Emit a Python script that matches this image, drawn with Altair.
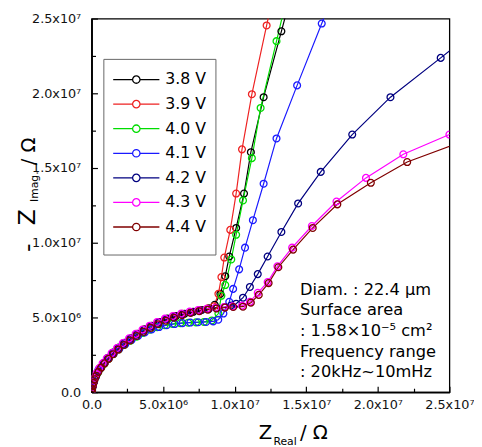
import json
import altair as alt
import pandas as pd

# ---------------- data (values in units of 1e6 ohm) ----------------
series = ["3.8 V", "3.9 V", "4.0 V", "4.1 V", "4.2 V", "4.3 V", "4.4 V"]
colors = ["#000000", "#ee2222", "#00dd00", "#1a1aff", "#000080", "#ff00ff", "#800000"]

x_38 = [0.03, 0.08, 0.15, 0.25, 0.4, 0.6, 0.85, 1.15, 1.5, 1.9, 2.3, 2.75, 3.2, 3.7, 4.2, 4.75, 5.3, 5.9, 6.5, 7.1, 7.7, 8.2, 8.6,
        9.0, 9.34, 9.62, 10.1, 10.65, 11.13, 12.02, 13.26, 13.95]
y_38 = [0.12, 0.4, 0.7, 1.0, 1.3, 1.62, 1.95, 2.3, 2.65, 2.98, 3.3, 3.6, 3.9, 4.2, 4.45, 4.7, 4.92, 5.1, 5.25, 5.38, 5.5, 5.62, 5.85,
        6.58, 7.76, 9.08, 10.99, 13.29, 16.06, 19.74, 24.15, 26.6]

x_39 = [0.02, 0.07, 0.14, 0.23, 0.37, 0.56, 0.8, 1.1, 1.45, 1.82, 2.22, 2.66, 3.12, 3.6, 4.1, 4.62, 5.18, 5.75, 6.35, 6.95, 7.55, 8.1, 8.55,
        8.86, 9.07, 9.27, 9.69, 10.1, 10.51, 11.2, 12.23, 12.69]
y_39 = [0.1, 0.38, 0.68, 0.98, 1.28, 1.6, 1.92, 2.27, 2.62, 2.95, 3.27, 3.58, 3.88, 4.17, 4.43, 4.68, 4.9, 5.08, 5.24, 5.37, 5.5, 5.6, 5.75,
        6.58, 7.7, 9.01, 10.86, 13.29, 16.25, 19.94, 24.54, 26.6]

x_40 = [0.03, 0.08, 0.16, 0.26, 0.42, 0.62, 0.88, 1.18, 1.52, 1.9, 2.3, 2.72, 3.15, 3.6, 4.08, 4.58, 5.1, 5.65, 6.2, 6.75, 7.3, 7.85, 8.4, 8.86,
        9.07, 9.34, 9.76, 10.1, 10.58, 11.2, 11.81, 12.92, 13.69]
y_40 = [0.1, 0.38, 0.68, 0.97, 1.27, 1.58, 1.9, 2.22, 2.55, 2.87, 3.17, 3.45, 3.72, 3.97, 4.18, 4.35, 4.48, 4.57, 4.62, 4.65, 4.67, 4.7, 4.8, 5.26,
        6.45, 7.17, 8.88, 10.53, 12.83, 15.66, 19.02, 23.49, 26.6]

x_41 = [0.04, 0.1, 0.18, 0.3, 0.48, 0.66, 0.92, 1.22, 1.56, 1.95, 2.36, 2.8, 3.25, 3.72, 4.2, 4.72, 5.25, 5.8, 6.35, 6.9, 7.45, 8.0, 8.5, 8.85,
        9.21, 9.62, 9.89, 10.31, 10.72, 11.27, 12.02, 12.92, 14.36, 16.08, 16.88]
y_41 = [0.13, 0.42, 0.72, 1.02, 1.5, 1.64, 1.96, 2.28, 2.6, 2.92, 3.22, 3.5, 3.76, 4.0, 4.2, 4.36, 4.48, 4.56, 4.62, 4.66, 4.68, 4.7, 4.74, 4.85,
        5.26, 6.05, 6.91, 8.22, 9.67, 11.51, 13.95, 16.98, 20.53, 24.67, 26.6]

x_42 = [0.03, 0.08, 0.15, 0.26, 0.41, 0.61, 0.86, 1.16, 1.5, 1.88, 2.28, 2.72, 3.18, 3.66, 4.16, 4.68, 5.22, 5.8, 6.38, 6.98, 7.58, 8.18, 8.75, 9.3, 9.75,
        10.1, 10.58, 11.06, 11.61, 12.3, 13.26, 14.43, 16.01, 18.21, 20.88, 24.39, 27.9]
y_42 = [0.11, 0.39, 0.69, 0.99, 1.29, 1.61, 1.94, 2.28, 2.63, 2.96, 3.28, 3.58, 3.88, 4.16, 4.42, 4.66, 4.88, 5.06, 5.22, 5.35, 5.46, 5.55, 5.62, 5.7, 5.8,
        5.92, 6.32, 7.04, 7.9, 9.08, 10.72, 12.63, 14.74, 17.24, 19.74, 22.37, 25.0]

x_43 = [0.02, 0.06, 0.12, 0.21, 0.35, 0.53, 0.77, 1.06, 1.4, 1.78, 2.18, 2.62, 3.08, 3.56, 4.06, 4.58, 5.12, 5.68, 6.26, 6.85, 7.45, 8.05, 8.65, 9.25, 9.85,
        10.51, 11.06, 11.61, 12.3, 12.98, 14.01, 15.39, 17.11, 19.17, 21.78, 25.0, 27.0]
y_43 = [0.09, 0.36, 0.66, 0.96, 1.27, 1.59, 1.93, 2.27, 2.62, 2.96, 3.29, 3.6, 3.9, 4.19, 4.45, 4.7, 4.92, 5.1, 5.26, 5.39, 5.5, 5.58, 5.65, 5.7, 5.74,
        5.79, 6.05, 6.65, 7.37, 8.42, 9.67, 11.12, 12.76, 14.34, 15.92, 17.24, 18.0]

x_44 = [0.01, 0.02, 0.04, 0.08, 0.14, 0.22, 0.33, 0.48, 0.68, 0.92, 1.2, 1.52, 1.88, 2.27, 2.7, 3.15, 3.63, 4.13, 4.65, 5.2, 5.76, 6.33, 6.92, 7.52, 8.12, 8.72, 9.32, 9.9,
        10.58, 11.13, 11.68, 12.37, 13.05, 14.08, 15.45, 17.17, 19.51, 22.05, 25.9]
y_44 = [0.02, 0.1, 0.22, 0.4, 0.62, 0.86, 1.1, 1.36, 1.64, 1.93, 2.23, 2.54, 2.85, 3.16, 3.46, 3.76, 4.04, 4.3, 4.55, 4.78, 4.98, 5.15, 5.3, 5.42, 5.52, 5.6, 5.66, 5.7,
        5.72, 5.99, 6.51, 7.3, 8.36, 9.54, 10.99, 12.57, 14.01, 15.4, 16.78]

x_lists = [x_38, x_39, x_40, x_41, x_42, x_43, x_44]
y_lists = [y_38, y_39, y_40, y_41, y_42, y_43, y_44]

tick_values = [0, 5e6, 1e7, 1.5e7, 2e7, 2.5e7]
tick_labels = ["0.0", "5.0x10\u2076", "1.0x10\u2077", "1.5x10\u2077", "2.0x10\u2077", "2.5x10\u2077"]
minor_values = [2.5e6, 7.5e6, 1.25e7, 1.75e7, 2.25e7]

annotation_lines = ["Diam. : 22.4 \u03bcm", "Surface area", " : 1.58\u00d710\u207b\u2075 cm\u00b2",
                    "Frequency range", " : 20kHz~10mHz"]

# ---------------- build table ----------------
rows = []
for name, xs, ys in zip(series, x_lists, y_lists):
    for i, (a, b) in enumerate(zip(xs, ys)):
        rows.append({"series": name, "x": a * 1e6, "y": b * 1e6, "i": i})
df = pd.DataFrame(rows)

FONT = "DejaVu Sans"
W, H = 364, 380

label_expr = "%s[indexof(%s, datum.value)]" % (
    json.dumps(tick_labels, ensure_ascii=False), json.dumps(tick_values))

scale_x = alt.Scale(domain=[0, 2.5e7], nice=False, zero=False)
scale_y = alt.Scale(domain=[0, 2.5e7], nice=False, zero=False)
color_scale = alt.Scale(domain=series, range=colors)

legend_path = "M-1,0L-0.16,0M0.16,0L1,0M0.16,0A0.16,0.16,0,1,1,-0.16,0A0.16,0.16,0,1,1,0.16,0"
legend = alt.Legend(
    title=" ", titleOrient="bottom", titleFontSize=5, titlePadding=2,
    orient="none", legendX=12, legendY=41,
    symbolType=legend_path, symbolSize=2209, symbolStrokeWidth=1.3,
    symbolFillColor="transparent", clipHeight=24, rowPadding=1,
    labelOffset=5, labelFont=FONT, labelFontSize=16, labelColor="#000",
    padding=9, strokeColor="#666666", fillColor="#ffffff",
)


def axis_main(orient):
    return alt.Axis(orient=orient, values=tick_values, labelExpr=label_expr, ticks=False,
                    grid=False, domain=True, domainColor="#000", domainWidth=1.8,
                    labelFont=FONT, labelFontSize=13, labelColor="#111",
                    labelOverlap=False, labelFlush=False,
                    labelPadding=11 if orient == "left" else 7, title=None)


def axis_ticks(orient, vals, size):
    return alt.Axis(orient=orient, values=vals, labels=False, ticks=True, tickSize=size,
                    offset=-size, tickColor="#000", tickWidth=1.2, domain=False,
                    grid=False, title=None)


lines = alt.Chart(df).mark_line(strokeWidth=1.2, clip=True).encode(
    x=alt.X("x:Q", scale=scale_x, axis=axis_main("bottom")),
    y=alt.Y("y:Q", scale=scale_y, axis=axis_main("left")),
    color=alt.Color("series:N", scale=color_scale, legend=legend),
    order="i:Q",
    detail="series:N",
)

points = alt.Chart(df).mark_point(filled=False, size=48, strokeWidth=1.3, clip=True, opacity=1).encode(
    x=alt.X("x:Q", scale=scale_x, axis=axis_ticks("bottom", tick_values, 6)),
    y=alt.Y("y:Q", scale=scale_y, axis=axis_ticks("left", tick_values, 6)),
    color=alt.Color("series:N", scale=color_scale, legend=legend),
)

minor = alt.Chart(df).mark_point(opacity=0, clip=True).encode(
    x=alt.X("x:Q", scale=scale_x, axis=axis_ticks("bottom", minor_values, 4)),
    y=alt.Y("y:Q", scale=scale_y, axis=axis_ticks("left", minor_values, 4)),
)

one = pd.DataFrame({"k": [0]})

annot = alt.Chart(one).mark_text(align="left", baseline="alphabetic", lineHeight=21,
                                 font=FONT, fontSize=16.5, color="#000").encode(
    x=alt.value(212), y=alt.value(281), text=alt.value(annotation_lines))


def vtext(txt, x, y, size):
    return alt.Chart(one).mark_text(angle=270, align="center", baseline="alphabetic",
                                    font=FONT, fontSize=size, color="#000").encode(
        x=alt.value(x), y=alt.value(y), text=alt.value(txt))


def htext(txt, x, y, size):
    return alt.Chart(one).mark_text(align="left", baseline="alphabetic",
                                    font=FONT, fontSize=size, color="#000").encode(
        x=alt.value(x), y=alt.value(y), text=alt.value(txt))


# y-axis title pieces
yt0 = vtext("-", -58, 233, 24)
yt1 = vtext("Z", -58, 202, 24)
yt2 = vtext("Imag.", -54, 171, 11)
yt3 = vtext("/ \u03a9", -58, 135, 20)

# x-axis title pieces
xt1 = htext("Z", 170, 428, 20)
xt2 = htext("Real", 185, 434, 11)
xt3 = htext("/ \u03a9", 212, 428, 20)

chart = alt.layer(lines, points, minor, annot, yt0, yt1, yt2, yt3, xt1, xt2, xt3).resolve_axis(
    x="independent", y="independent"
).properties(
    width=W, height=H,
    autosize=alt.AutoSizeParams(type="none"),
    padding={"left": 85, "top": 7, "right": 25, "bottom": 52},
).configure_view(stroke="#000", strokeWidth=1.3)

chart.save("out.html", embed_options={"renderer": "svg", "actions": False})
